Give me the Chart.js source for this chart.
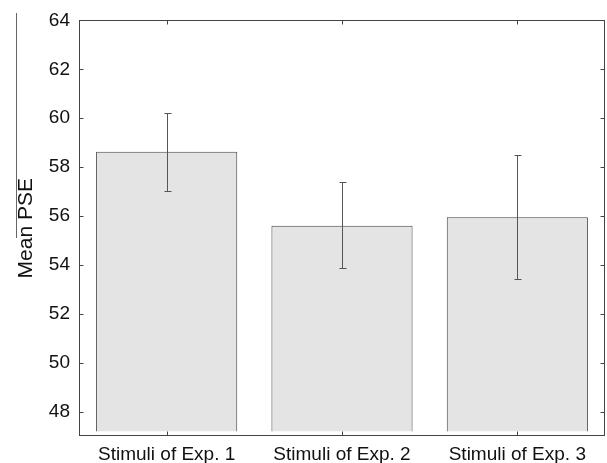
<!DOCTYPE html>
<html lang="en">
  <head>
    <meta charset="UTF-8" />
    <title>Mean PSE by stimulus set</title>
    <script src="https://cdn.jsdelivr.net/npm/chart.js"></script>
    <style>
      body {
        margin: 0;
        background: white;
      }
      canvas {
        display: block;
      }
    </style>
  </head>
  <body>
    <canvas id="chart" width="607" height="463"></canvas>

    <script>
      const categories = ["Stimuli of Exp. 1", "Stimuli of Exp. 2", "Stimuli of Exp. 3"];
      const meanPSE = [58.63, 55.6, 55.95];
      const errLow = [57.04, 53.87, 53.44];
      const errHigh = [60.2, 57.38, 58.51];
      const yTicks = [48, 50, 52, 54, 56, 58, 60, 62, 64];

      const axisColor = "#444";

      // box around the plot, inward ticks on all sides, error bars
      const boxPlugin = {
        id: "boxAndErrors",
        afterDatasetsDraw(chart) {
          const { ctx, chartArea: a, scales } = chart;
          const x = scales.x;
          const y = scales.y;
          ctx.save();

          // error bars
          ctx.strokeStyle = "#555";
          ctx.lineWidth = 1;
          categories.forEach((c, i) => {
            const cx = Math.round(x.getPixelForValue(i)) + 0.5;
            const top = Math.round(y.getPixelForValue(errHigh[i])) + 0.5;
            const bot = Math.round(y.getPixelForValue(errLow[i])) + 0.5;
            ctx.beginPath();
            ctx.moveTo(cx, top);
            ctx.lineTo(cx, bot);
            ctx.moveTo(cx - 3, top);
            ctx.lineTo(cx + 4, top);
            ctx.moveTo(cx - 3, bot);
            ctx.lineTo(cx + 4, bot);
            ctx.stroke();
          });

          // frame
          ctx.strokeStyle = axisColor;
          ctx.lineWidth = 1;
          const l = Math.round(a.left) + 0.5;
          const r = Math.round(a.right) - 0.5;
          const t = Math.round(a.top) + 0.5;
          const b = Math.round(a.bottom) - 0.5;
          ctx.strokeRect(l, t, r - l, b - t);

          // inward ticks
          ctx.beginPath();
          yTicks.forEach((v) => {
            const py = Math.round(y.getPixelForValue(v)) + 0.5;
            ctx.moveTo(l, py);
            ctx.lineTo(l + 4, py);
            ctx.moveTo(r, py);
            ctx.lineTo(r - 4, py);
          });
          categories.forEach((c, i) => {
            const px = Math.round(x.getPixelForValue(i)) + 0.5;
            ctx.moveTo(px, b);
            ctx.lineTo(px, b - 4);
            ctx.moveTo(px, t);
            ctx.lineTo(px, t + 4);
          });
          ctx.stroke();

          // stray rule at the far left of the figure
          ctx.strokeStyle = "#666";
          ctx.beginPath();
          ctx.moveTo(16.5, 13);
          ctx.lineTo(16.5, 238);
          ctx.stroke();

          ctx.restore();
        },
      };

      new Chart(document.getElementById("chart"), {
        type: "bar",
        data: {
          labels: categories,
          datasets: [
            {
              data: meanPSE,
              backgroundColor: "#e4e4e4",
              borderColor: "#444",
              borderWidth: 1,
              borderSkipped: "start",
              base: 47.18,
              categoryPercentage: 0.805,
              barPercentage: 1.0,
            },
          ],
        },
        plugins: [boxPlugin],
        options: {
          responsive: false,
          animation: false,
          layout: { padding: { top: 19, right: 2, left: 0, bottom: 0 } },
          plugins: {
            legend: { display: false },
            tooltip: { enabled: false },
          },
          scales: {
            x: {
              grid: { display: false, drawTicks: false },
              border: { display: false },
              ticks: {
                color: "#111",
                padding: 7,
                maxRotation: 0,
                font: { family: "Liberation Sans", size: 19 },
              },
              afterFit(scale) {
                scale.height = 27;
              },
            },
            y: {
              min: 47,
              max: 64,
              grid: { display: false, drawTicks: false },
              border: { display: false },
              afterBuildTicks(scale) {
                scale.ticks = yTicks.map((v) => ({ value: v }));
              },
              ticks: {
                color: "#111",
                padding: 9,
                font: { family: "Liberation Sans", size: 19 },
              },
              title: {
                display: true,
                text: "Mean PSE",
                color: "#111",
                padding: { top: 14, bottom: 0 },
                font: { family: "Liberation Sans", size: 21 },
              },
              afterFit(scale) {
                scale.width = 79;
              },
            },
          },
        },
      });
    </script>
  </body>
</html>
